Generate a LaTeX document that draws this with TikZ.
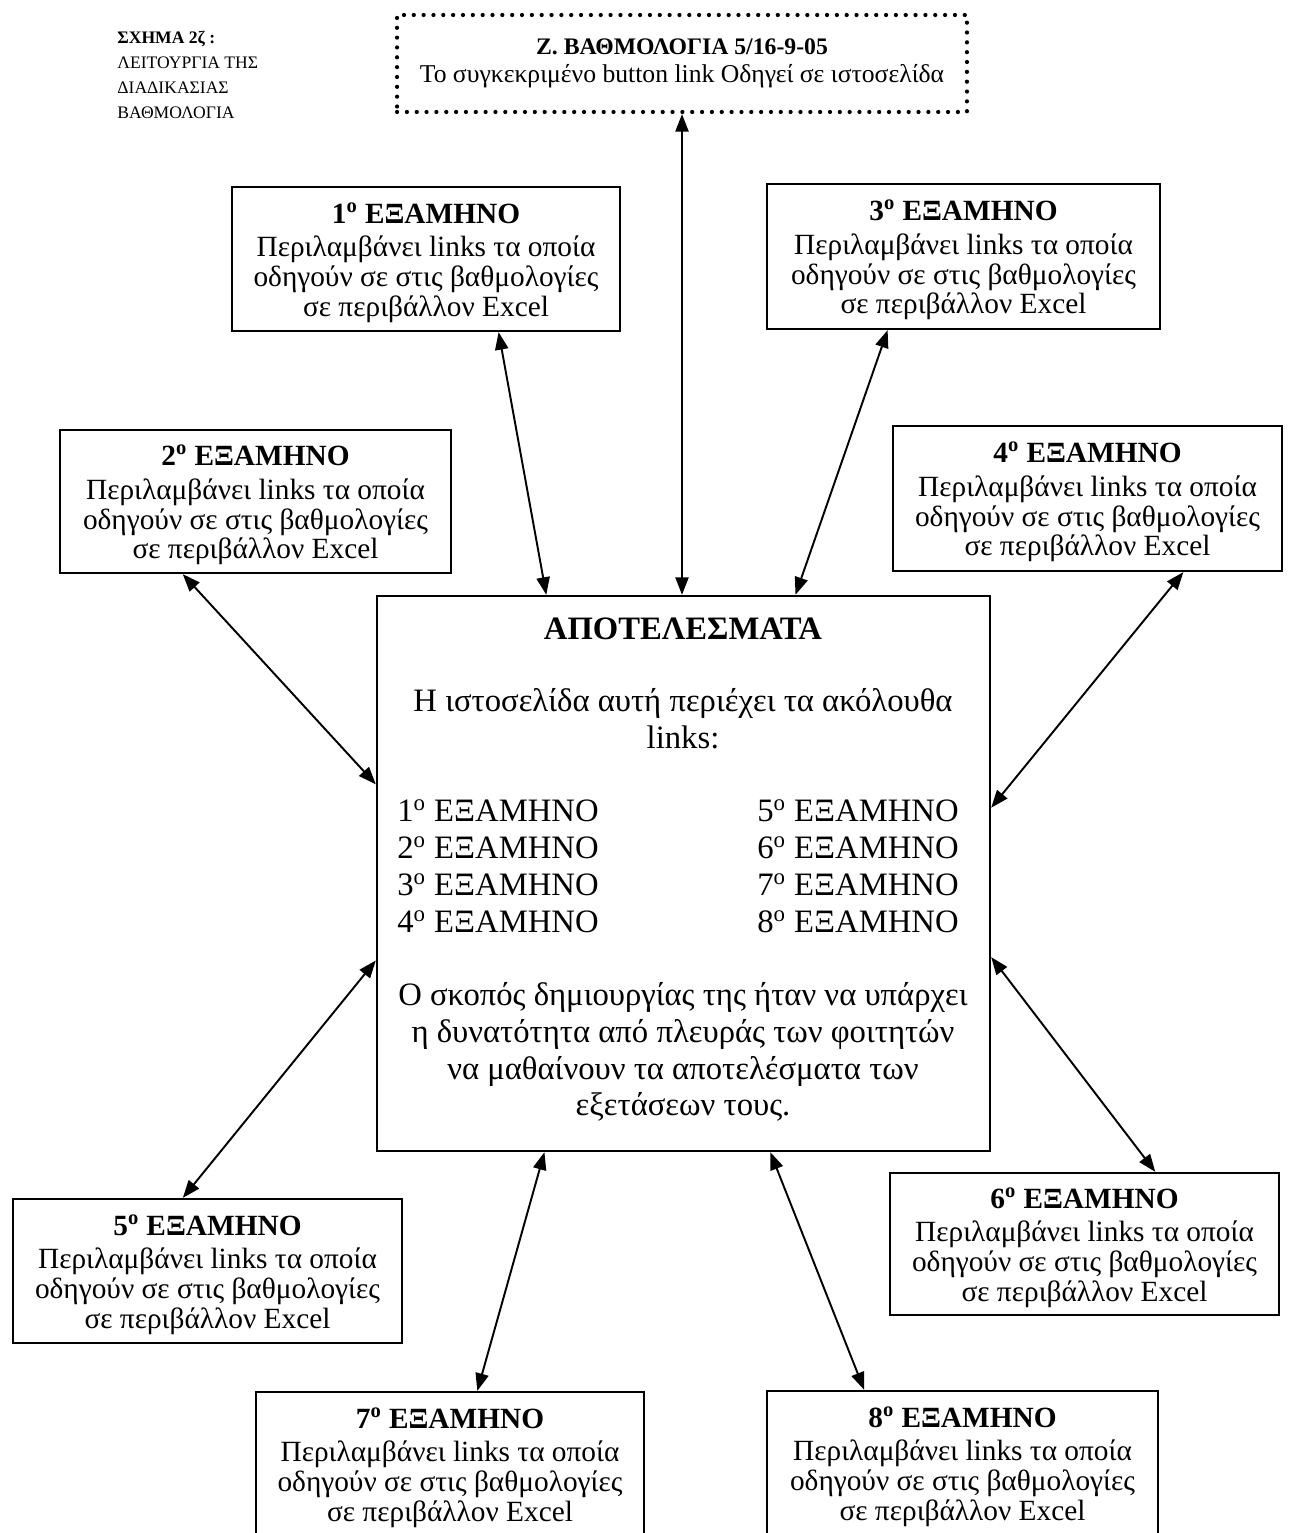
\documentclass[tikz,border=0pt]{standalone}
\usepackage{fontspec}
\setmainfont{Liberation Serif}
\usetikzlibrary{arrows.meta,calc}

\begin{document}
\begin{tikzpicture}[x=0.02cm,y=-0.02cm,
  box/.style={draw,line width=1.3pt,align=center,inner sep=0pt,
    font=\fontsize{16.7}{17}\selectfont},
  dotbox/.style={draw,line width=2.4pt,dash pattern=on 0pt off 5.6pt,line cap=round,
    align=center,inner sep=0pt,font=\fontsize{14.6}{16}\selectfont},
  bigbox/.style={draw,line width=1.4pt,inner sep=0pt},
  bigtext/.style={inner sep=0pt,font=\fontsize{18.6}{21}\selectfont},
  link/.style={{Triangle[length=10pt,width=7.5pt]}-{Triangle[length=10pt,width=7.5pt]},line width=1.1pt},
]
\useasboundingbox (0,0) rectangle (1289,1533);
\fill[white] (0,0) rectangle (1289,1533);
\clip (0,0) rectangle (1289,1533);

% caption at the upper left
\node[anchor=north west,align=left,inner sep=0pt,font=\fontsize{10}{14.2}\selectfont]
  (caption) at (117,31) {\textbf{ΣΧΗΜΑ 2ζ :}\\ΛΕΙΤΟΥΡΓΙΑ ΤΗΣ\\ΔΙΑΔΙΚΑΣΙΑΣ\\ΒΑΘΜΟΛΟΓΙΑ};

% dotted page box
\node[dotbox,minimum width=11.4cm,minimum height=1.94cm] (zb) at (682,63.5)
  {{\fontsize{13.5}{16}\selectfont\bfseries Ζ. ΒΑΘΜΟΛΟΓΙΑ 5/16-9-05}\\
   Το συγκεκριμένο button link Οδηγεί σε ιστοσελίδα};

% semester boxes
\newcommand{\semtext}[1]{\rule{0pt}{16pt}\textbf{#1\textsuperscript{o} ΕΞΑΜΗΝΟ}\\[2pt]Περιλαμβάνει links τα οποία\\οδηγούν σε στις βαθμολογίες\\σε περιβάλλον Excel}
\node[box,minimum width=7.76cm,minimum height=2.88cm] (b1) at (426,259) {\semtext{1}};
\node[box,minimum width=7.86cm,minimum height=2.90cm] (b3) at (963.5,256.5) {\semtext{3}};
\node[box,minimum width=7.82cm,minimum height=2.86cm] (b2) at (255.5,501.5) {\semtext{2}};
\node[box,minimum width=7.78cm,minimum height=2.90cm] (b4) at (1087.5,498.5) {\semtext{4}};
\node[box,minimum width=7.78cm,minimum height=2.88cm] (b5) at (207.5,1271) {\semtext{5}};
\node[box,minimum width=7.78cm,minimum height=2.84cm] (b6) at (1084.5,1244) {\semtext{6}};
\node[box,minimum width=7.76cm,minimum height=2.88cm] (b7) at (450,1464) {\semtext{7}};
\node[box,minimum width=7.82cm,minimum height=2.88cm] (b8) at (962.5,1463) {\semtext{8}};

% results page box
\node[bigbox,minimum width=12.26cm,minimum height=11.1cm] (res) at (683.5,873.5) {};
\node[bigtext,font=\fontsize{18.6}{21}\selectfont\bfseries] (restitle) at (683,629) {ΑΠΟΤΕΛΕΣΜΑΤΑ};
\node[bigtext,align=center] (resintro) at (683,719) {Η ιστοσελίδα αυτή περιέχει τα ακόλουθα\\links:};
\node[bigtext,align=left,anchor=west] (listL) at (397,866)
  {1\textsuperscript{o} ΕΞΑΜΗΝΟ\\2\textsuperscript{o} ΕΞΑΜΗΝΟ\\3\textsuperscript{o} ΕΞΑΜΗΝΟ\\4\textsuperscript{o} ΕΞΑΜΗΝΟ};
\node[bigtext,align=left,anchor=west] (listR) at (757,866)
  {5\textsuperscript{o} ΕΞΑΜΗΝΟ\\6\textsuperscript{o} ΕΞΑΜΗΝΟ\\7\textsuperscript{o} ΕΞΑΜΗΝΟ\\8\textsuperscript{o} ΕΞΑΜΗΝΟ};
\node[bigtext,align=center] (respurpose) at (683,1052)
  {Ο σκοπός δημιουργίας της ήταν να υπάρχει\\η δυνατότητα από πλευράς των φοιτητών\\να μαθαίνουν τα αποτελέσματα των\\εξετάσεων τους.};

% two-way links
\draw[link] (zb.south) -- (zb.south |- res.north);
\draw[link] ($(b1.south west)!0.686!(b1.south east)$) -- ($(res.north west)!0.277!(res.north east)$);
\draw[link] ($(b3.south west)!0.308!(b3.south east)$) -- ($(res.north west)!0.682!(res.north east)$);
\draw[link] ($(b2.south west)!0.315!(b2.south east)$) -- ($(res.north west)!0.34!(res.south west)$);
\draw[link] ($(b4.south west)!0.745!(b4.south east)$) -- ($(res.north east)!0.382!(res.south east)$);
\draw[link] ($(res.north west)!0.656!(res.south west)$) -- ($(b5.north west)!0.437!(b5.north east)$);
\draw[link] ($(res.north east)!0.65!(res.south east)$) -- ($(b6.north west)!0.681!(b6.north east)$);
\draw[link] ($(res.south west)!0.274!(res.south east)$) -- ($(b7.north west)!0.57!(b7.north east)$);
\draw[link] ($(res.south west)!0.641!(res.south east)$) -- ($(b8.north west)!0.25!(b8.north east)$);
\end{tikzpicture}
\end{document}
